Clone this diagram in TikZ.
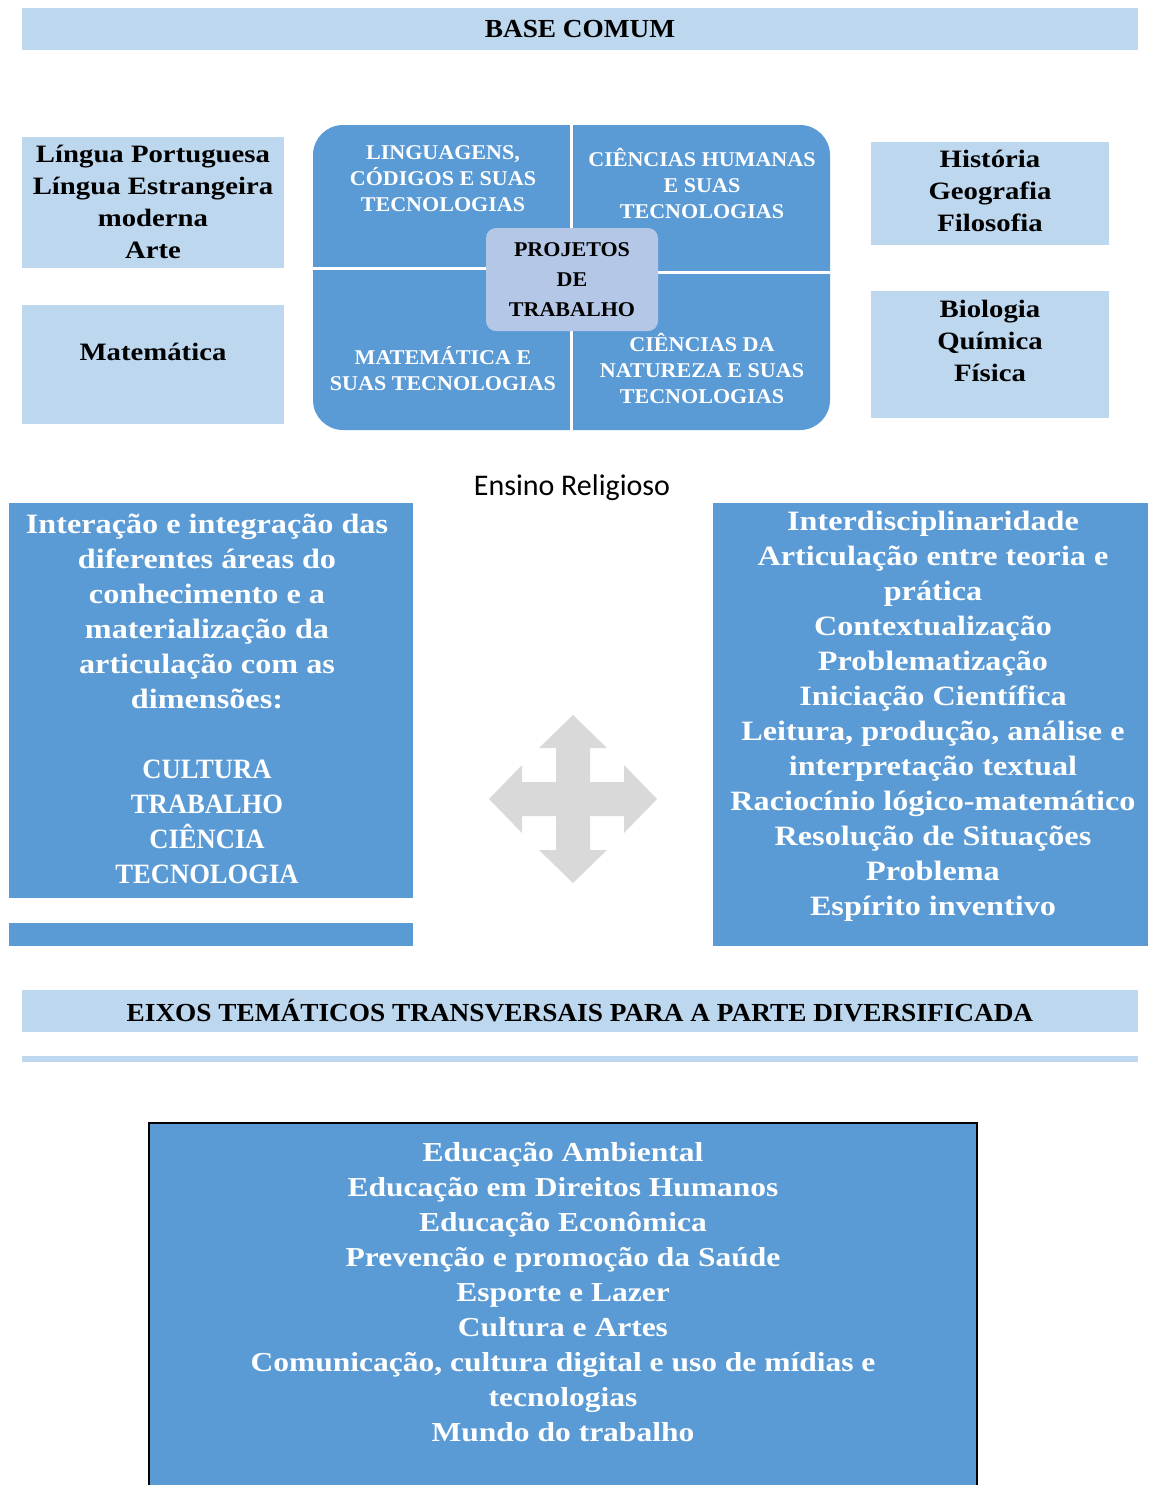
\documentclass[tikz,border=0pt]{standalone}
\usepackage{fontspec}
\setmainfont{Liberation Serif}[FakeStretch=1.15]
\newfontfamily\capsfont{Liberation Serif}[FakeStretch=1.05]
\newfontfamily\narrowcaps{Liberation Serif}[FakeStretch=0.95]
\newfontfamily\calibrifont{Carlito}
\usepackage{tikz}
\usetikzlibrary{positioning}
\definecolor{paleblue}{HTML}{BDD7EE}
\definecolor{areablue}{HTML}{5B9BD5}
\definecolor{projblue}{HTML}{B4C7E7}
\definecolor{movegray}{HTML}{D9D9D9}
\tikzset{
  band/.style={rectangle, fill=paleblue, inner sep=0pt, minimum width=558pt, minimum height=21pt,
    font=\capsfont\bfseries\fontsize{13}{15}\selectfont},
  sidebox/.style={rectangle, fill=paleblue, inner sep=0pt, minimum width=131pt},
  sidetxt/.style={align=center, inner sep=0pt, font=\bfseries\fontsize{12.5}{16}\selectfont},
  area/.style={align=center, inner sep=0pt, text=white, font=\capsfont\bfseries\fontsize{10.5}{13}\selectfont},
  projbox/.style={rectangle, rounded corners=5pt, fill=projblue, minimum width=86pt, minimum height=51.5pt,
    inner sep=0pt, align=center, font=\capsfont\bfseries\fontsize{10.5}{15}\selectfont},
  divider/.style={draw=white, line width=1.5pt},
  bigbox/.style={rectangle, fill=areablue, inner sep=0pt},
  bigtxt/.style={align=center, inner sep=0pt, text=white, font=\bfseries\fontsize{14}{17.5}\selectfont},
}
\newcommand{\dimcaps}[1]{{\narrowcaps\bfseries #1}}

\begin{document}
\begin{tikzpicture}[x=0.5pt, y=-0.5pt]
  \useasboundingbox (0,0) rectangle (1148,1485);

  % base comum
  \node[band] (base) at (580,29) {BASE COMUM};

  \node[sidebox, minimum height=65.5pt] (lingua) at (153,202.5) {};
  \node[sidetxt] (linguatxt) at (153,201.5) {Língua Portuguesa\\Língua Estrangeira\\moderna\\Arte};
  \node[sidebox, minimum height=59.5pt] (mat) at (153,364.5) {};
  \node[sidetxt] (mattxt) at (153,352) {Matemática};
  \node[sidebox, minimum width=119pt, minimum height=51.5pt] (hum) at (990,193.5) {};
  \node[sidetxt] (humtxt) at (990,191) {História\\Geografia\\Filosofia};
  \node[sidebox, minimum width=119pt, minimum height=63.5pt] (nat) at (990,354.5) {};
  \node[sidetxt] (nattxt) at (990,341) {Biologia\\Química\\Física};

  % areas do conhecimento
  \node[rectangle, rounded corners=15pt, fill=areablue, minimum width=258.5pt, minimum height=152.5pt,
        inner sep=0pt] (areas) at (571.5,277.5) {};
  \draw[divider] (areas.north) -- (areas.south);
  \draw[divider] (313,268) -- (572,268);
  \draw[divider] (572,272) -- (830,272);
  \node[area] (lcod) at (443,179) {LINGUAGENS,\\CÓDIGOS E SUAS\\TECNOLOGIAS};
  \node[area] (chum) at (702,183) {CIÊNCIAS HUMANAS\\E SUAS\\TECNOLOGIAS};
  \node[area] (mtec) at (443,368.5) {MATEMÁTICA E\\SUAS TECNOLOGIAS};
  \node[area] (cnat) at (702,368) {CIÊNCIAS DA\\NATUREZA E SUAS\\TECNOLOGIAS};
  \node[projbox] (proj) at (572,279.5) {PROJETOS\\DE\\TRABALHO};

  \node[font=\calibrifont\fontsize{15}{18}\selectfont, inner sep=0pt] (relig) at (572,488) {Ensino Religioso};

  % dimensoes e principios
  \node[bigbox, minimum width=202pt, minimum height=197.5pt] (dim) at (211,700.5) {};
  \node[bigtxt] (dimtxt) at (207,699) {Interação e integração das\\diferentes áreas do\\conhecimento e a\\materialização da\\articulação com as\\dimensões:\\[17.5pt]\dimcaps{CULTURA}\\\dimcaps{TRABALHO}\\\dimcaps{CIÊNCIA}\\\dimcaps{TECNOLOGIA}};
  \node[bigbox, minimum width=202pt, minimum height=11.5pt] (dimbar) at (211,934.5) {};
  \node[bigbox, minimum width=217.5pt, minimum height=221.5pt] (princ) at (930.5,724.5) {};
  \node[bigtxt] (princtxt) at (933,716.5) {Interdisciplinaridade\\Articulação entre teoria e\\prática\\Contextualização\\Problematização\\Iniciação Científica\\Leitura, produção, análise e\\interpretação textual\\Raciocínio lógico-matemático\\Resolução de Situações\\Problema\\Espírito inventivo};

  \coordinate (mv) at (573,799);
  \foreach \ang in {0,90,180,270}
    \fill[movegray, shift={(mv)}, rotate=\ang]
      (-17,0) -- (-17,-51) -- (-34,-51) -- (0,-84) -- (34,-51) -- (17,-51) -- (17,0) -- cycle;

  % parte diversificada
  \node[band] (eixos) at (580,1011) {EIXOS TEMÁTICOS TRANSVERSAIS PARA A PARTE DIVERSIFICADA};
  \node[band, minimum height=3pt] (eixosline) at (580,1059) {};

  \node[bigbox, draw=black, line width=1pt, minimum width=414pt, minimum height=190pt, anchor=north] (temas) at (563,1122) {};
  \node[bigtxt, font=\bfseries\fontsize{13.7}{17.5}\selectfont] (temastxt) at (563,1292.5) {Educação Ambiental\\Educação em Direitos Humanos\\Educação Econômica\\Prevenção e promoção da Saúde\\Esporte e Lazer\\Cultura e Artes\\Comunicação, cultura digital e uso de mídias e\\tecnologias\\Mundo do trabalho};
\end{tikzpicture}
\end{document}
